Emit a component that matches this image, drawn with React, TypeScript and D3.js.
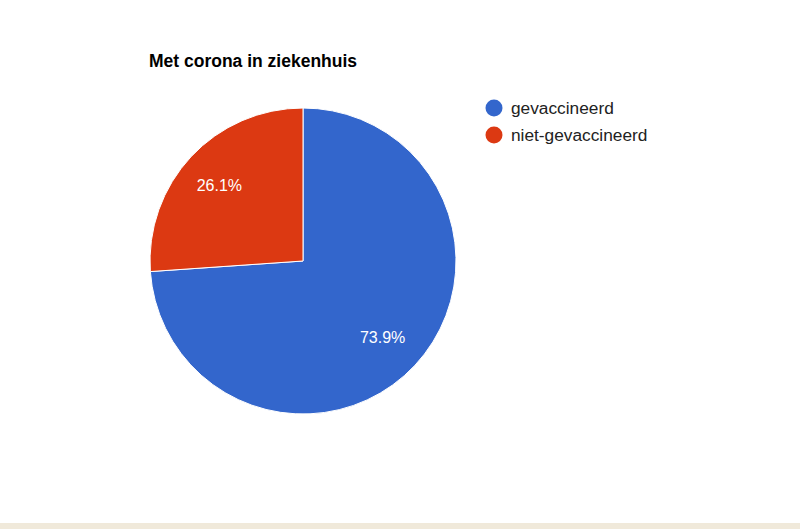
import { useEffect, useRef } from 'react';
import * as d3 from 'd3';

// Data
const categories = ['gevaccineerd', 'niet-gevaccineerd'];
const shares = [73.9, 26.1];
const colors = ['#3366cc', '#dc3912'];
const title = 'Met corona in ziekenhuis';

const W = 800;
const H = 529;

export default function App() {
    const ref = useRef<SVGSVGElement>(null);

    useEffect(() => {
        const svg = d3.select(ref.current);
        svg.selectAll('*').remove();

        const font = 'Arial, "Liberation Sans", sans-serif';

        svg.append('rect').attr('width', W).attr('height', H).attr('fill', '#ffffff');
        // beige strip at the bottom
        svg.append('rect').attr('x', 0).attr('y', 523).attr('width', W).attr('height', H - 523).attr('fill', '#f0e9da');

        svg.append('text')
            .attr('x', 149)
            .attr('y', 67)
            .attr('font-family', font)
            .attr('font-size', 17.5)
            .attr('font-weight', 'bold')
            .attr('fill', '#000')
            .text(title);

        const cx = 303, cy = 261, r = 153;
        const rows = categories.map((c, i) => ({ name: c, value: shares[i], color: colors[i] }));

        const pie = d3.pie<any>().sort(null).value(d => d.value);
        const arc = d3.arc<any>().innerRadius(0).outerRadius(r);
        const labelArc = d3.arc<any>().innerRadius(r * 0.73).outerRadius(r * 0.73);

        const g = svg.append('g').attr('transform', `translate(${cx}, ${cy})`);
        const arcs = pie(rows);

        g.selectAll('path')
            .data(arcs)
            .join('path')
            .attr('d', arc)
            .attr('fill', d => d.data.color)
            .attr('stroke', '#ffffff')
            .attr('stroke-width', 1);

        g.selectAll('text')
            .data(arcs)
            .join('text')
            .attr('x', d => labelArc.centroid(d)[0] - 2)
            .attr('y', d => labelArc.centroid(d)[1] + 6)
            .attr('text-anchor', 'middle')
            .attr('font-family', font)
            .attr('font-size', 16)
            .attr('fill', '#ffffff')
            .text(d => d.data.value.toFixed(1) + '%');

        // Legend
        const legend = svg.append('g').attr('transform', 'translate(494, 108)');
        const item = legend.selectAll('g')
            .data(rows)
            .join('g')
            .attr('transform', (d, i) => `translate(0, ${i * 27})`);

        item.append('circle').attr('r', 8.5).attr('fill', d => d.color);
        item.append('text')
            .attr('x', 17)
            .attr('y', 6)
            .attr('font-family', font)
            .attr('font-size', 17.3)
            .attr('fill', '#222222')
            .text(d => d.name);
    }, []);

    return (
        <svg
            ref={ref}
            width={W}
            height={H}
            style={{ position: 'absolute', left: 0, top: 0, display: 'block' }}
        />
    );
}
